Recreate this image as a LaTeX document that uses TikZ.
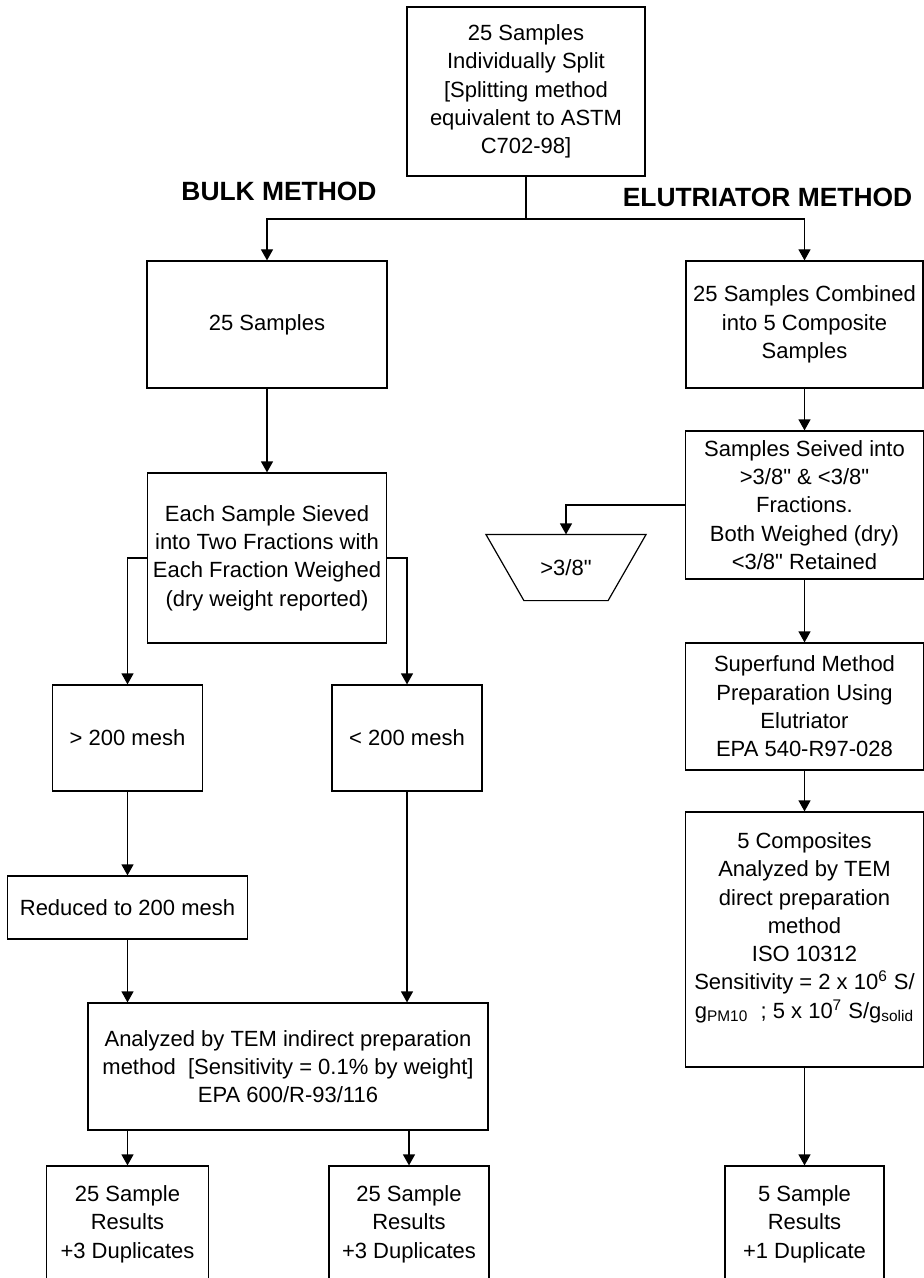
\documentclass[tikz,border=0pt]{standalone}
\usepackage{fontspec}
\setmainfont{Liberation Sans}
\usetikzlibrary{arrows.meta}

\begin{document}
\begin{tikzpicture}[
	x=0.5pt,y=-0.5pt,
	every node/.style={font=\fontsize{11}{14.15}\selectfont},
	box/.style={rectangle,draw,align=center,inner sep=2pt},
	head/.style={font=\fontsize{13.2}{16}\selectfont\bfseries},
	trap/.style={minimum width=79.5pt,minimum height=32.5pt,inner sep=0pt},
	flow/.style={arrows={-Triangle[length=5.5pt,width=6pt]}},
	line width=0.6pt]
	\useasboundingbox (0,0) rectangle (924,1278);
	\node[box,minimum width=119pt,minimum height=84.5pt] (top) at (526,91.5)
		{25 Samples\\Individually Split\\{[}Splitting method\\equivalent to ASTM\\C702-98{]}};
	\node[head] (bulk) at (279,191) {BULK METHOD};
	\node[head] (elut) at (767.5,197) {ELUTRIATOR METHOD};
	\coordinate (split) at (526,219);
	% bulk column
	\node[box,minimum width=120pt,minimum height=63.5pt] (samples) at (267,324.5) {25 Samples};
	\node[box,minimum width=119.5pt,minimum height=85pt] (each) at (267,558)
		{Each Sample Sieved\\into Two Fractions with\\Each Fraction Weighed\\(dry weight reported)};
	\node[box,minimum width=75pt,minimum height=53pt] (coarse) at (127.5,738) {> 200 mesh};
	\node[box,minimum width=75pt,minimum height=53pt] (fine) at (407,738) {< 200 mesh};
	\node[box,minimum width=120pt,minimum height=31.5pt] (reduced) at (127.5,907.5) {Reduced to 200 mesh};
	\node[box,minimum width=200pt,minimum height=63.5pt] (indirect) at (288,1066.5)
		{Analyzed by TEM indirect preparation\\method\ \ {[}Sensitivity = 0.1\% by weight{]}\\EPA 600/R-93/116};
	\node[box,minimum width=81pt,minimum height=58pt] (resA) at (127.5,1224) {25 Sample\\Results\\+3 Duplicates};
	\node[box,minimum width=80pt,minimum height=58pt] (resB) at (409,1224) {25 Sample\\Results\\+3 Duplicates};
	% elutriator column
	\node[box,minimum width=118.5pt,minimum height=63.5pt] (combined) at (804.5,324.5)
		{25 Samples Combined\\into 5 Composite\\Samples};
	\node[box,minimum width=119pt,minimum height=74pt] (sieved) at (804.5,505)
		{Samples Seived into\\>3/8\textquotedbl{} \& <3/8\textquotedbl\\Fractions.\\Both Weighed (dry)\\<3/8\textquotedbl{} Retained};
	\node[trap] (oversize) at (566,567.5) {>3/8\textquotedbl};
	\draw (oversize.north west) -- (oversize.north east) -- ([xshift=-19pt]oversize.south east)
		-- ([xshift=19pt]oversize.south west) -- cycle;
	\node[box,minimum width=119pt,minimum height=63.5pt] (superfund) at (804.5,706.5)
		{Superfund Method\\Preparation Using\\Elutriator\\EPA 540-R97-028};
	\node[box,minimum width=119pt,minimum height=127.5pt] (direct) at (804.5,939.5)
		{5 Composites\\Analyzed by TEM\\direct preparation\\method\\ISO 10312\\Sensitivity = 2 x 10\textsuperscript{6} S/\\g\textsubscript{PM10}\ \ ; 5 x 10\textsuperscript{7} S/g\textsubscript{solid}\\\mbox{}};
	\node[box,minimum width=79.5pt,minimum height=58pt] (resC) at (804.5,1224) {5 Sample\\Results\\+1 Duplicate};
	% connectors
	\draw (top.south) -- (split);
	\draw[flow] (split) -| (samples.north);
	\draw[flow] (split) -| (combined.north);
	\draw[flow] (samples.south) -- (each.north);
	\draw[flow] (each.west) -| (coarse.north);
	\draw[flow] (each.east) -| (fine.north);
	\draw[flow] (coarse.south) -- (reduced.north);
	\draw[flow] (reduced.south) -- (reduced.south |- indirect.north);
	\draw[flow] (fine.south) -- (fine.south |- indirect.north);
	\draw[flow] (resA.north |- indirect.south) -- (resA.north);
	\draw[flow] (resB.north |- indirect.south) -- (resB.north);
	\draw[flow] (combined.south) -- (sieved.north);
	\draw[flow] (sieved.west) -| (oversize.north);
	\draw[flow] (sieved.south) -- (superfund.north);
	\draw[flow] (superfund.south) -- (direct.north);
	\draw[flow] (direct.south) -- (resC.north);
\end{tikzpicture}
\end{document}
